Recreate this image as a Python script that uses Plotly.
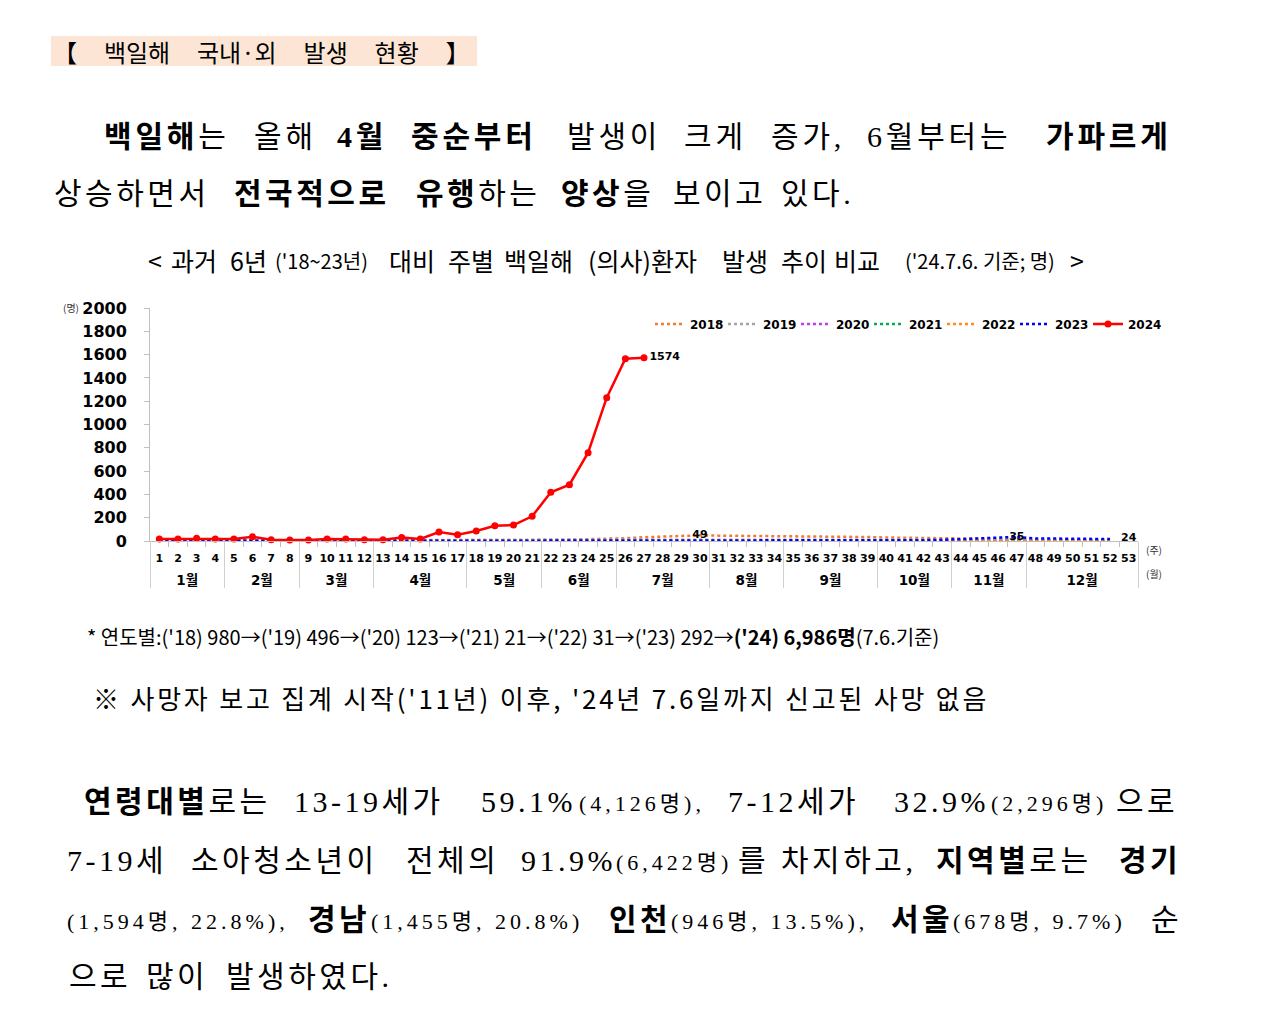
import plotly.graph_objects as go

# ---------------- data ----------------
weeks = list(range(1, 54))
week_labels = [str(w) for w in weeks]
month_names = [f"{m}월" for m in range(1, 13)]
weeks_per_month = [4, 4, 4, 5, 4, 4, 5, 4, 5, 4, 4, 6]

years = ["2018", "2019", "2020", "2021", "2022", "2023", "2024"]
colors = ["#ED7D31", "#A5A5A5", "#C23BF5", "#00B050", "#FF8C1A", "#0000FF", "#FF0000"]

y2018 = [5, 4, 5, 4, 4, 3, 4, 3, 3, 4, 4, 5, 4, 5, 6, 5, 6, 7, 7, 8,
         8, 10, 12, 15, 20, 24, 32, 38, 44, 49, 46, 45, 44, 43, 42, 41, 40,
         38, 34, 30, 28, 27, 26, 24, 22, 20, 18, 14, 12, 10, 8, 6]
y2019 = [7, 6, 6, 5, 6, 5, 6, 6, 5, 6, 6, 5, 6, 6, 7, 6, 7, 7, 8, 8,
         8, 9, 9, 10, 11, 12, 12, 13, 13, 14, 14, 15, 14, 15, 14, 13, 14, 13, 13, 12,
         12, 12, 11, 11, 10, 10, 9, 9, 8, 8, 7, 7]
y2020 = [8, 9, 8, 7, 6, 5, 4, 3, 3, 2, 2, 2, 1, 1, 1, 1, 1, 1, 1, 1,
         2, 1, 2, 2, 1, 2, 2, 1, 2, 1, 2, 2, 1, 2, 2, 1, 2, 1, 2, 2,
         1, 2, 2, 1, 2, 1, 2, 2, 1, 2, 2, 1]
y2021 = [2, 0, 1, 0, 0, 2, 0, 0, 1, 0, 0, 1, 0, 0, 0, 1, 0, 0, 1, 0,
         0, 0, 1, 0, 0, 1, 0, 0, 1, 0, 0, 1, 0, 0, 1, 0, 0, 0, 1, 0,
         0, 1, 0, 0, 1, 0, 0, 1, 0, 0, 2, 1]
y2022 = [0, 1, 0, 1, 0, 0, 1, 0, 1, 0, 1, 0, 0, 1, 0, 1, 0, 0, 1, 0,
         1, 0, 1, 0, 0, 1, 0, 1, 0, 1, 0, 1, 0, 1, 1, 0, 1, 0, 1, 1,
         0, 1, 0, 1, 0, 1, 1, 0, 1, 0, 1, 1]
y2023 = [2, 1, 2, 2, 1, 2, 3, 2, 2, 1, 2, 2, 1, 2, 2, 2, 1, 2, 2, 1,
         2, 2, 2, 1, 2, 2, 3, 2, 2, 2, 2, 3, 2, 2, 3, 2, 3, 3, 3, 4,
         5, 7, 10, 15, 22, 29, 35, 22, 20, 19, 18, 17]
y2024 = [17, 17, 23, 17, 17, 37, 11, 9, 9, 17, 17, 11, 11, 29, 17, 77, 54, 86,
         131, 137, 212, 418, 483, 758, 1230, 1565, 1574]

label_weeks = [30, 47, 53]
label_values = [49, 35, 24]

series = [y2018, y2019, y2020, y2021, y2022, y2023, y2024]

# ---------------- helpers ----------------
month_display = [f"<br><span style='font-size:13.5px'>{m}</span>" for m in month_names]
week_month = [m for m, n in zip(month_display, weeks_per_month) for _ in range(n)]


def mx(idx_list):
    return [[week_month[i] for i in idx_list], [week_labels[i] for i in idx_list]]


SANS = "Noto Sans CJK KR"
SERIF = "Liberation Serif, Noto Sans CJK KR"
CHART = "DejaVu Sans, Noto Sans CJK KR"

fig = go.Figure()
for name, col, ys in zip(years, colors, series):
    idx = list(range(len(ys)))
    if name == "2024":
        fig.add_trace(go.Scatter(
            x=mx(idx), y=ys, name=name, mode="lines+markers+text",
            line=dict(color=col, width=2.5), marker=dict(size=7, color=col),
            text=[str(v) if i == len(ys) - 1 else "" for i, v in enumerate(ys)],
            textposition="middle right",
            textfont=dict(family=CHART, size=11, color="black", weight="bold"),
            cliponaxis=False))
    else:
        fig.add_trace(go.Scatter(
            x=mx(idx), y=ys, name=name, mode="lines",
            line=dict(color=col, width=2.5, dash="dot"), cliponaxis=False))

fig.add_trace(go.Scatter(
    x=mx([w - 1 for w in label_weeks]), y=label_values, mode="text",
    text=[str(v) for v in label_values], textposition="middle center",
    textfont=dict(family=CHART, size=11, color="black", weight="bold"),
    showlegend=False, cliponaxis=False))

# plot area in pixels
PL, PR, PT, PB = 150, 1138, 308, 541


def pp(px, py):
    return (px - PL) / (PR - PL), (PB - py) / (PB - PT)


anns = []


def note(px, py, text, size, family=SANS, anchor="left", color="black", ls=0):
    x, y = pp(px, py)
    if ls:
        text = f'<span style="letter-spacing:{ls}px">{text}</span>'
    anns.append(dict(x=x, y=y, xref="paper", yref="paper", text=text, showarrow=False,
                     xanchor=anchor, yanchor="middle", borderpad=0,
                     font=dict(size=size, family=family, color=color)))


# title box
gap = "\u00a0" * 5
note(261.5, 51, gap.join(["【", "백일해", "국내·외", "발생", "현황", "】"]), 24, SANS, anchor="center")

# paragraph 1
P = 30
for px, t in [(103, "<b>백일해</b>는"), (253, "올해"), (336, "<b>4월</b>"), (410, "<b>중순부터</b>"),
              (566, "발생이"), (683, "크게"), (770, "증가,"), (866, "6월부터는"), (1045, "<b>가파르게</b>")]:
    note(px, 136, t, P, SERIF, ls=3.8)
for px, t in [(53, "상승하면서"), (233, "<b>전국적으로</b>"), (415, "<b>유행</b>하는"), (560, "<b>양상</b>을"),
              (672, "보이고"), (780, "있다.")]:
    note(px, 193, t, P, SERIF, ls=3.5)

# chart subtitle
S, s = 25, 20
for px, t, sz in [(147, "&lt;", S), (170, "과거", S), (229, "6년", S), (274, "('18~23년)", s),
                  (388, "대비", S), (447, "주별", S), (503, "백일해", S), (587, "(의사)환자", S),
                  (721, "발생", S), (780, "추이", S), (833, "비교", S), (904, "('24.7.6. 기준; 명)", s),
                  (1069, "&gt;", S)]:
    note(px, 260, t, sz, SANS)

# axis unit labels
note(80, 307, "(명)", 10, SANS, anchor="right", color="#333333")
note(1145, 549, "(주)", 10, SANS, color="#333333")
note(1145, 573, "(월)", 10, SANS, color="#333333")

# footnotes
note(86, 636, "* 연도별:('18) 980→('19) 496→('20) 123→('21) 21→('22) 31→('23) 292→"
              "<b>('24) 6,986명</b>(7.6.기준)", 20, SANS)
note(92, 697, "※ 사망자 보고 집계 시작('11년) 이후, '24년 7.6일까지 신고된 사망 없음", 26, SANS, ls=2.8)

# paragraph 2
sm = 22
rows = [
    (801, [(83, "<b>연령대별</b>로는", P), (293, "13-19세가", P), (480, "59.1%", P), (578, "(4,126명),", sm),
           (727, "7-12세가", P), (893, "32.9%", P), (990, "(2,296명)", sm), (1115, "으로", P)]),
    (860, [(66, "7-19세", P), (190, "소아청소년이", P), (405, "전체의", P), (520, "91.9%", P),
           (615, "(6,422명)", sm), (737, "를", P), (780, "차지하고,", P), (935, "<b>지역별</b>로는", P),
           (1118, "<b>경기</b>", P)]),
    (919, [(66, "(1,594명, 22.8%),", sm), (307, "<b>경남</b>", P), (370, "(1,455명, 20.8%)", sm),
           (608, "<b>인천</b>", P), (670, "(946명, 13.5%),", sm), (890, "<b>서울</b>", P),
           (952, "(678명, 9.7%)", sm), (1150, "순", P)]),
    (976, [(68, "으로", P), (145, "많이", P), (225, "발생하였다.", P)]),
]
for py, items in rows:
    for px, t, sz in items:
        if sz == P:
            note(px, py, t, sz, SERIF, ls=3.5)
        else:
            note(px, py + 2, t, sz, SERIF, ls=4)

x0, y0 = pp(51, 66)
x1, y1 = pp(477, 36)
shapes = [dict(type="rect", xref="paper", yref="paper", x0=x0, y0=y0, x1=x1, y1=y1,
               fillcolor="#FDE5D6", line=dict(width=0), layer="below")]

lx, ly = pp(650, 324)
fig.update_layout(
    width=1270, height=1019,
    margin=dict(l=PL, r=1270 - PR, t=PT, b=1019 - PB, pad=0),
    paper_bgcolor="white", plot_bgcolor="white",
    annotations=anns, shapes=shapes,
    xaxis=dict(type="multicategory", range=[-0.5, 52.5], tickmode="linear", dtick=1,
               showline=True, linecolor="#BFBFBF", linewidth=1, ticks="outside", ticklen=5,
               tickcolor="#BFBFBF", showgrid=False, zeroline=False, showdividers=True,
               dividercolor="#D0D0D0", dividerwidth=1, tickangle=0, ticklabelstandoff=7,
               tickfont=dict(family=CHART, size=11, color="black", weight="bold")),
    yaxis=dict(range=[0, 2000], dtick=200, showline=True, linecolor="#BFBFBF", linewidth=1,
               ticks="outside", ticklen=5, tickcolor="#BFBFBF", showgrid=False, zeroline=False,
               ticklabelstandoff=14,
               tickfont=dict(family="DejaVu Sans", size=16, color="black", weight="bold")),
    legend=dict(orientation="h", x=lx, y=ly, xanchor="left", yanchor="middle",
                font=dict(family="DejaVu Sans", size=12, color="black", weight="bold"),
                entrywidth=28, entrywidthmode="pixels", itemwidth=30,
                bgcolor="rgba(0,0,0,0)"),
    showlegend=True,
)

fig.write_html("out.html")
